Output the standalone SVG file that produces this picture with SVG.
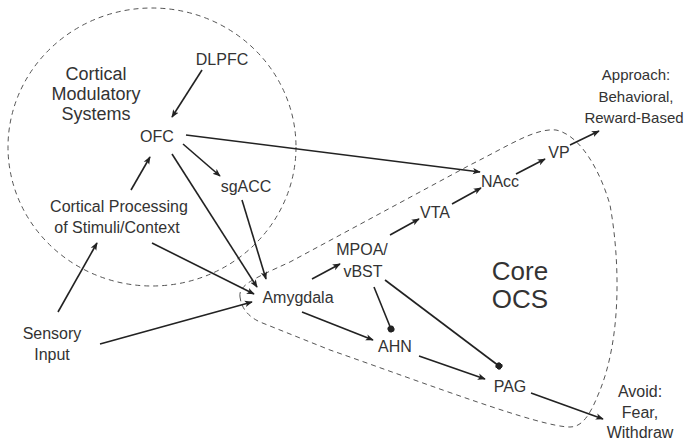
<svg xmlns="http://www.w3.org/2000/svg" width="685" height="444" viewBox="0 0 685 444">
<defs>
<marker id="ah" viewBox="0 0 10 10" refX="9" refY="5" markerWidth="8" markerHeight="8" markerUnits="userSpaceOnUse" orient="auto">
<path d="M0,1 L10,5 L0,9 L2.5,5 Z" fill="#222"/>
</marker>
<marker id="dot" viewBox="0 0 10 10" refX="5" refY="5" markerWidth="7" markerHeight="7" markerUnits="userSpaceOnUse" orient="auto">
<circle cx="5" cy="5" r="5" fill="#222"/>
</marker>
</defs>
<style>
text{font-family:"Liberation Sans",Arial,sans-serif;fill:#333;text-anchor:middle;font-size:16px}
.big{font-size:18px}
.sm{font-size:15px}
.core{font-size:26px}
.dash{fill:none;stroke:#555;stroke-width:1;stroke-dasharray:5,4}
.c{fill:none;stroke:#222;stroke-width:1.6;marker-end:url(#ah)}
.d{fill:none;stroke:#222;stroke-width:1.6;marker-end:url(#dot)}
</style>
<rect width="685" height="444" fill="#fff"/>
<g id="regions">
<ellipse class="dash" cx="152" cy="147" rx="144" ry="139"/>
<path class="dash" d="M240,297 C238,285 255,278 290,262 L470,165 C510,145 535,128 556,130 C580,135 600,170 610,205 C620,260 622,340 598,395 C590,415 582,427 570,427 C540,427 430,385 330,350 L260,322 C245,315 241,305 240,297 Z"/>
</g>
<g id="connectors">
<line class="c" x1="202" y1="70" x2="172" y2="117"/>
<line class="c" x1="131" y1="190" x2="150" y2="157"/>
<line class="c" x1="183" y1="144" x2="220" y2="176"/>
<line class="c" x1="172" y1="154" x2="257" y2="287"/>
<line class="c" x1="242" y1="200" x2="266" y2="279"/>
<line class="c" x1="152" y1="243" x2="254" y2="294"/>
<line class="c" x1="58" y1="312" x2="97" y2="243"/>
<line class="c" x1="100" y1="344" x2="252" y2="302"/>
<line class="c" x1="186" y1="135" x2="480" y2="172"/>
<line class="c" x1="312" y1="279" x2="340" y2="264"/>
<line class="c" x1="390" y1="235" x2="419" y2="219"/>
<line class="c" x1="452" y1="204" x2="481" y2="188"/>
<line class="c" x1="516" y1="174" x2="545" y2="159"/>
<line class="c" x1="570" y1="145" x2="599" y2="131"/>
<line class="c" x1="302" y1="312" x2="373" y2="340"/>
<line class="d" x1="374" y1="287" x2="391" y2="329"/>
<line class="d" x1="385" y1="280" x2="499" y2="366"/>
<line class="c" x1="419" y1="356" x2="485" y2="379"/>
<line class="c" x1="531" y1="393" x2="603" y2="419"/>
</g>
<g id="cortical-label"><text class="big" x="96" y="80">Cortical</text><text class="big" x="96" y="100">Modulatory</text><text class="big" x="96" y="120">Systems</text></g>
<g id="dlpfc"><text x="222" y="65">DLPFC</text></g>
<g id="ofc"><text x="157" y="142">OFC</text></g>
<g id="sgacc"><text x="246" y="192">sgACC</text></g>
<g id="cortical-processing"><text x="119" y="212">Cortical Processing</text><text x="117" y="233">of Stimuli/Context</text></g>
<g id="sensory"><text x="52" y="339">Sensory</text><text x="52" y="360">Input</text></g>
<g id="amygdala"><text x="298" y="303">Amygdala</text></g>
<g id="mpoa"><text x="362" y="255">MPOA/</text><text x="363" y="277">vBST</text></g>
<g id="core-label"><text class="core" x="520" y="280">Core</text><text class="core" x="520" y="308">OCS</text></g>
<g id="ahn"><text x="395" y="352">AHN</text></g>
<g id="pag"><text x="510" y="392">PAG</text></g>
<g id="avoid"><text x="640" y="397">Avoid:</text><text x="640" y="418">Fear,</text><text x="640" y="438">Withdraw</text></g>
<g id="vta"><text x="435" y="218">VTA</text></g>
<g id="nacc"><text x="500" y="187">NAcc</text></g>
<g id="vp"><text x="559" y="158">VP</text></g>
<g id="approach"><text class="sm" x="636" y="80">Approach:</text><text class="sm" x="636" y="102">Behavioral,</text><text class="sm" x="634" y="123">Reward-Based</text></g>
</svg>
